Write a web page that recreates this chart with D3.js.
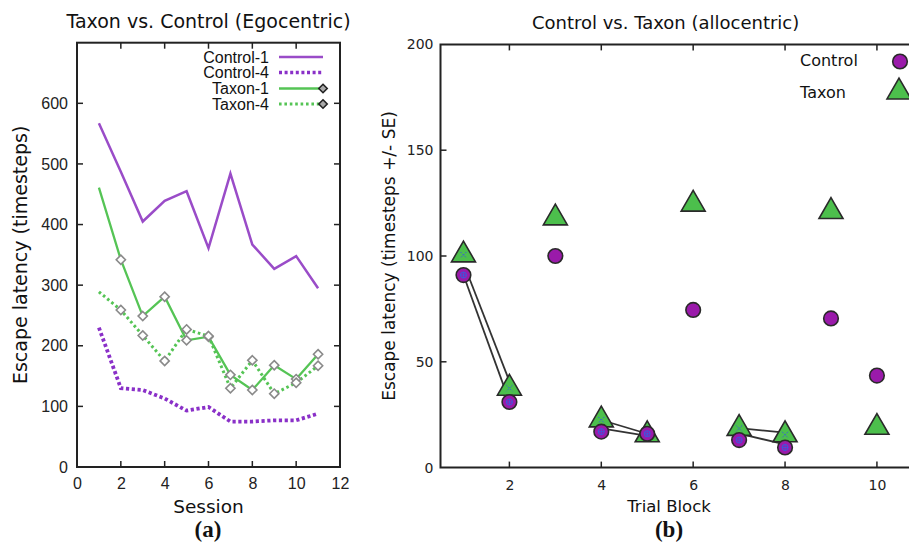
<!DOCTYPE html>
<html><head><meta charset="utf-8">
<script src="https://cdn.jsdelivr.net/npm/d3@7"></script>
<style>
html,body{margin:0;padding:0;background:#fff;}
svg{display:block;}
</style></head>
<body>
<svg id="c" width="909" height="547"></svg>
<script>
// ---------- Panel (a) data ----------
const sessions = [1,2,3,4,5,6,7,8,9,10,11];
const control1 = [567,487,405,439,455,361,484,367,327,348,295];
const control4 = [230,130,127,113,93,99,75,75,77,77,88];
const taxon1   = [461,342,249,281,209,215,152,127,168,145,186];
const taxon4   = [289,259,217,175,227,216,130,176,121,139,167];
const legendA  = ["Control-1","Control-4","Taxon-1","Taxon-4"];
const xTicksA  = [0,2,4,6,8,10,12];
const yTicksA  = [0,100,200,300,400,500,600];

// ---------- Panel (b) data ----------
const blocks   = [1,2,3,4,5,6,7,8,9,10];
const controlB = [91,31,100,17,16,74.5,13,9.5,70.5,43.5];
const taxonB   = [100.5,37.5,118,22.5,15.5,124.5,18.5,15.5,121,19];
const errBlocks = [1,2,4,5,7,8];
// connector segments [x0, y0, x1, y1]
const linksB = [[1.0,91,1.92,36],[1.1,91,2.05,38],[4,22.5,5,16],[4,18.5,5,15],[7,18.7,8,16.5],[7,16,8,11]];
const legendB  = ["Control","Taxon"];
const xTicksB  = [2,4,6,8,10];
const yTicksB  = [0,50,100,150,200];

const svg = d3.select("#c");
const AX = "#222";
const PURPLE_S = "#9a4cc8", PURPLE_D = "#8a30c8", GREEN = "#55c455";
const SANS = "DejaVu Sans", ARIAL = "Liberation Sans";

// ================= Panel (a) =================
const xA = d3.scaleLinear().domain([0,12]).range([77,340]);
const yA = d3.scaleLinear().domain([0,700]).range([467,42.7]);
const gA = svg.append("g");

const tl = 6;
xTicksA.slice(1,-1).forEach(t=>{
  gA.append("line").attr("x1",xA(t)).attr("x2",xA(t)).attr("y1",yA(0)).attr("y2",yA(0)-tl).attr("stroke",AX).attr("stroke-width",1.5);
  gA.append("line").attr("x1",xA(t)).attr("x2",xA(t)).attr("y1",yA(700)).attr("y2",yA(700)+tl).attr("stroke",AX).attr("stroke-width",1.5);
});
yTicksA.slice(1).forEach(t=>{
  gA.append("line").attr("x1",xA(0)).attr("x2",xA(0)+tl).attr("y1",yA(t)).attr("y2",yA(t)).attr("stroke",AX).attr("stroke-width",1.5);
  gA.append("line").attr("x1",xA(12)).attr("x2",xA(12)-tl).attr("y1",yA(t)).attr("y2",yA(t)).attr("stroke",AX).attr("stroke-width",1.5);
});
const axXA = d3.axisBottom(xA).tickValues(xTicksA).tickSize(0).tickPadding(11);
gA.append("g").attr("transform",`translate(0,${yA(0)})`).call(axXA)
  .call(g=>{g.select(".domain").remove(); g.selectAll("text").attr("font-family",ARIAL).attr("font-size",16).attr("fill","#222");});
const axYA = d3.axisLeft(yA).tickValues(yTicksA).tickSize(0).tickPadding(9);
gA.append("g").attr("transform",`translate(${xA(0)},0)`).call(axYA)
  .call(g=>{g.select(".domain").remove(); g.selectAll("text").attr("font-family",ARIAL).attr("font-size",16).attr("fill","#222");});

const lineA = d3.line().x((d,i)=>xA(sessions[i])).y(d=>yA(d));
gA.append("path").attr("d",lineA(control1)).attr("fill","none").attr("stroke",PURPLE_S).attr("stroke-width",2.5);
gA.append("path").attr("d",lineA(control4)).attr("fill","none").attr("stroke",PURPLE_D).attr("stroke-width",3.8).attr("stroke-dasharray","3.2,2.6");
gA.append("path").attr("d",lineA(taxon1)).attr("fill","none").attr("stroke",GREEN).attr("stroke-width",2.3);
gA.append("path").attr("d",lineA(taxon4)).attr("fill","none").attr("stroke",GREEN).attr("stroke-width",3).attr("stroke-dasharray","2.6,2.8");

function diamond(g,x,y,r,stroke,fill){
  g.append("path").attr("d",`M${x},${y-r}L${x+r},${y}L${x},${y+r}L${x-r},${y}Z`)
   .attr("fill",fill).attr("stroke",stroke).attr("stroke-width",1.6);
}
[taxon1,taxon4].forEach(arr=>{
  arr.forEach((v,i)=>{ if(i>0) diamond(gA,xA(sessions[i]),yA(v),4.6,"#8a8a8a","#fff"); });
});

gA.append("rect").attr("x",xA(0)).attr("y",yA(700)).attr("width",xA(12)-xA(0)).attr("height",yA(0)-yA(700))
  .attr("fill","none").attr("stroke",AX).attr("stroke-width",2);

const legY = [57,72.5,88.5,104];
const legStyles = [
  {c:PURPLE_S,w:2.5,d:null,m:false},
  {c:PURPLE_D,w:3.5,d:"3,2.6",m:false},
  {c:GREEN,w:2.3,d:null,m:true},
  {c:GREEN,w:3,d:"2.6,2.8",m:true}
];
legendA.forEach((t,i)=>{
  const s = legStyles[i];
  gA.append("text").attr("x",269).attr("y",legY[i]+5.5).attr("text-anchor","end")
    .attr("font-family",ARIAL).attr("font-size",16).attr("fill","#111").text(t);
  gA.append("line").attr("x1",279).attr("x2",323).attr("y1",legY[i]).attr("y2",legY[i])
    .attr("stroke",s.c).attr("stroke-width",s.w).attr("stroke-dasharray",s.d);
  if(s.m) diamond(gA,323,legY[i],4.2,"#222","#aaa");
});

gA.append("text").attr("x",208.5).attr("y",28).attr("text-anchor","middle")
  .attr("font-family",SANS).attr("font-size",19).attr("fill","#111").text("Taxon vs. Control (Egocentric)");
gA.append("text").attr("x",xA(6)).attr("y",513).attr("text-anchor","middle")
  .attr("font-family",SANS).attr("font-size",18.5).attr("fill","#111").text("Session");
gA.append("text").attr("transform",`translate(27,${(yA(0)+yA(700))/2}) rotate(-90)`).attr("text-anchor","middle")
  .attr("font-family",SANS).attr("font-size",19).attr("fill","#111").text("Escape latency (timesteps)");
gA.append("text").attr("x",208).attr("y",537).attr("text-anchor","middle")
  .attr("font-family","Liberation Serif").attr("font-weight","bold").attr("font-size",23).attr("fill","#111").text("(a)");

// ================= Panel (b) =================
const xB = d3.scaleLinear().domain([0.5,11.5]).range([440.5,440.5+11*45.94]);
const yB = d3.scaleLinear().domain([0,200]).range([467.6,44.4]);
const gB = svg.append("g");

xTicksB.forEach(t=>{
  gB.append("line").attr("x1",xB(t)).attr("x2",xB(t)).attr("y1",yB(0)).attr("y2",yB(0)-tl).attr("stroke",AX).attr("stroke-width",1.5);
  gB.append("line").attr("x1",xB(t)).attr("x2",xB(t)).attr("y1",yB(200)).attr("y2",yB(200)+tl).attr("stroke",AX).attr("stroke-width",1.5);
});
yTicksB.slice(1,-1).forEach(t=>{
  gB.append("line").attr("x1",xB(0.5)).attr("x2",xB(0.5)+tl).attr("y1",yB(t)).attr("y2",yB(t)).attr("stroke",AX).attr("stroke-width",1.5);
});
const axXB = d3.axisBottom(xB).tickValues(xTicksB).tickSize(0).tickPadding(12);
gB.append("g").attr("transform",`translate(0,${yB(0)})`).call(axXB)
  .call(g=>{g.select(".domain").remove(); g.selectAll("text").attr("font-family",SANS).attr("font-size",14).attr("fill","#222");});
const axYB = d3.axisLeft(yB).tickValues(yTicksB).tickSize(0).tickPadding(7);
gB.append("g").attr("transform",`translate(${xB(0.5)},0)`).call(axYB)
  .call(g=>{g.select(".domain").remove(); g.selectAll("text").attr("font-family",SANS).attr("font-size",14).attr("fill","#222");});

gB.append("path").attr("d",`M${xB(11.5)},${yB(200)}H${xB(0.5)}V${yB(0)}H${xB(11.5)}`)
  .attr("fill","none").attr("stroke",AX).attr("stroke-width",2);

linksB.forEach(l=>{
  gB.append("line").attr("x1",xB(l[0])).attr("y1",yB(l[1])).attr("x2",xB(l[2])).attr("y2",yB(l[3]))
    .attr("stroke","#333").attr("stroke-width",1.8);
});

const TRI = 24;
function tri(g,x,y,s){
  const h = s*Math.sqrt(3)/2;
  g.append("path").attr("d",`M${x},${y-2*h/3}L${x+s/2},${y+h/3}L${x-s/2},${y+h/3}Z`)
   .attr("fill","#4cbf4c").attr("stroke","#2a2a2a").attr("stroke-width",1.6).attr("stroke-linejoin","miter");
}
function circ(g,x,y,r){
  g.append("circle").attr("cx",x).attr("cy",y).attr("r",r)
   .attr("fill","#9a1aaa").attr("stroke","#2a2a2a").attr("stroke-width",1.6);
}
blocks.forEach((b,i)=>tri(gB,xB(b),yB(taxonB[i]),TRI));
blocks.forEach((b,i)=>circ(gB,xB(b),yB(controlB[i]),7.3));

errBlocks.forEach(b=>{
  const i = blocks.indexOf(b);
  const cx = xB(b), cy = yB(controlB[i]);
  gB.append("circle").attr("cx",cx).attr("cy",cy).attr("r",3).attr("fill","none").attr("stroke","#3a5ae0").attr("stroke-width",1);
  gB.append("path").attr("d",`M${cx-3},${cy}H${cx+3}M${cx},${cy-3}V${cy+3}`).attr("stroke","#3a5ae0").attr("stroke-width",0.8);
  const tx = xB(b), ty = yB(taxonB[i]);
  gB.append("path").attr("d",`M${tx-3},${ty-3}L${tx+3},${ty+3}M${tx+3},${ty-3}L${tx-3},${ty+3}`)
    .attr("stroke","#3a5ae0").attr("stroke-width",1).attr("stroke-dasharray","1.5,1.2");
});

gB.append("text").attr("x",800).attr("y",66).attr("font-family",SANS).attr("font-size",16).attr("fill","#111").text(legendB[0]);
gB.append("text").attr("x",800).attr("y",98).attr("font-family",SANS).attr("font-size",16).attr("fill","#111").text(legendB[1]);
circ(gB,900,61.5,7.3);
tri(gB,899,92,TRI);

gB.append("text").attr("x",665.6).attr("y",29).attr("text-anchor","middle")
  .attr("font-family",SANS).attr("font-size",18).attr("fill","#111").text("Control vs. Taxon (allocentric)");
gB.append("text").attr("x",669).attr("y",512).attr("text-anchor","middle")
  .attr("font-family",SANS).attr("font-size",16.5).attr("fill","#111").text("Trial Block");
gB.append("text").attr("transform",`translate(395,${(yB(0)+yB(200))/2}) rotate(-90)`).attr("text-anchor","middle")
  .attr("font-family",SANS).attr("font-size",17).attr("fill","#111").text("Escape latency (timesteps +/- SE)");
gB.append("text").attr("x",669).attr("y",537).attr("text-anchor","middle")
  .attr("font-family","Liberation Serif").attr("font-weight","bold").attr("font-size",23).attr("fill","#111").text("(b)");
</script>
</body></html>
